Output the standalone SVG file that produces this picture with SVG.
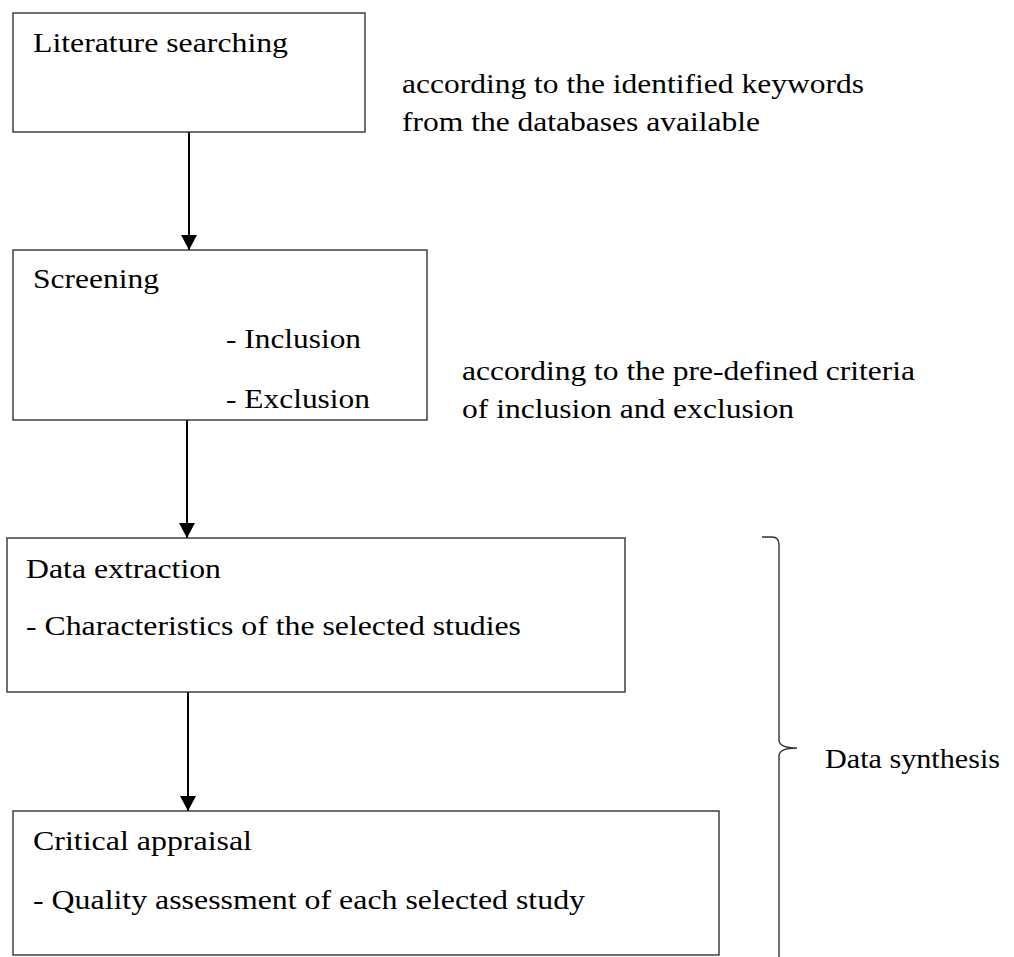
<svg xmlns="http://www.w3.org/2000/svg" width="1014" height="957" viewBox="0 0 1014 957">
<defs>
<style>
.box{fill:#fff;stroke:#333;stroke-width:1.4}
.t{font-family:"Liberation Serif","Times New Roman",serif;font-size:28px;fill:#000}
.conn{stroke:#000;stroke-width:2;fill:none}
.brace{stroke:#333;stroke-width:1.4;fill:none}
</style>
<marker id="ah" markerWidth="15" markerHeight="16" refX="15" refY="8" orient="auto" markerUnits="userSpaceOnUse">
<path d="M0,0 L15,8 L0,16 Z" fill="#000"/>
</marker>
</defs>
<rect width="1014" height="957" fill="#fff"/>
<g id="connectors">
<line class="conn" x1="189" y1="132" x2="189" y2="250" marker-end="url(#ah)"/>
<line class="conn" x1="187" y1="420" x2="187" y2="538" marker-end="url(#ah)"/>
<line class="conn" x1="188" y1="692" x2="188" y2="811" marker-end="url(#ah)"/>
</g>
<g id="node-literature">
<rect class="box" x="13" y="13" width="352" height="119"/>
<text class="t" x="33" y="52" textLength="255" lengthAdjust="spacingAndGlyphs">Literature searching</text>
</g>
<g id="note-literature">
<text class="t" x="402" y="93" textLength="462" lengthAdjust="spacingAndGlyphs">according to the identified keywords</text>
<text class="t" x="402" y="131" textLength="358" lengthAdjust="spacingAndGlyphs">from the databases available</text>
</g>
<g id="node-screening">
<rect class="box" x="13" y="250" width="414" height="170"/>
<text class="t" x="33" y="288" textLength="126" lengthAdjust="spacingAndGlyphs">Screening</text>
<text class="t" x="226" y="348" textLength="135" lengthAdjust="spacingAndGlyphs">- Inclusion</text>
<text class="t" x="226" y="408" textLength="144" lengthAdjust="spacingAndGlyphs">- Exclusion</text>
</g>
<g id="note-screening">
<text class="t" x="462" y="380" textLength="453" lengthAdjust="spacingAndGlyphs">according to the pre-defined criteria</text>
<text class="t" x="462" y="418" textLength="332" lengthAdjust="spacingAndGlyphs">of inclusion and exclusion</text>
</g>
<g id="node-extraction">
<rect class="box" x="7" y="538" width="618" height="154"/>
<text class="t" x="26" y="578" textLength="195" lengthAdjust="spacingAndGlyphs">Data extraction</text>
<text class="t" x="26" y="635" textLength="495" lengthAdjust="spacingAndGlyphs">- Characteristics of the selected studies</text>
</g>
<g id="node-appraisal">
<rect class="box" x="13" y="811" width="706" height="144"/>
<text class="t" x="33" y="850" textLength="219" lengthAdjust="spacingAndGlyphs">Critical appraisal</text>
<text class="t" x="33" y="909" textLength="552" lengthAdjust="spacingAndGlyphs">- Quality assessment of each selected study</text>
</g>
<g id="synthesis">
<path class="brace" d="M762,537 L772,537 Q779,537 779,545 L779,740 Q779,748 797,748 Q779,748 779,756 L779,957"/>
<text class="t" x="825" y="768" textLength="175" lengthAdjust="spacingAndGlyphs">Data synthesis</text>
</g>
</svg>
